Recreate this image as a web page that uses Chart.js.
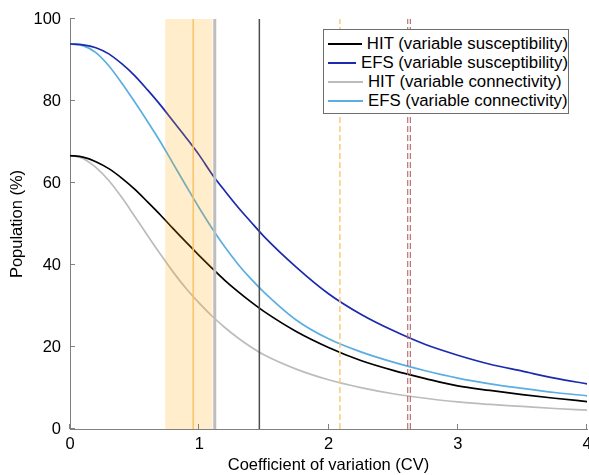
<!DOCTYPE html>
<html>
<head>
<meta charset="utf-8">
<script src="https://cdn.jsdelivr.net/npm/chart.js@4.4.1/dist/chart.umd.min.js"></script>
<style>
  html, body { margin: 0; padding: 0; background: #fff; }
  #wrap { position: relative; width: 589px; height: 475px; }
  #legend {
    position: absolute; left: 323px; top: 29px; width: 246px; height: 85px;
    box-sizing: border-box; border: 1px solid #6e6e6e; background: #fff;
    padding-top: 4px; font: 16.8px "Liberation Sans", Arial, Helvetica, sans-serif; color: #000;
  }
  .row { height: 19px; display: flex; align-items: center; white-space: nowrap; }
  .swatch { width: 35px; height: 0; border-top: 2px solid; margin: 0 5px 0 4px; }
</style>
</head>
<body>
<div id="wrap">
  <canvas id="chart" width="589" height="475"></canvas>
  <div id="legend"></div>
</div>
<script>
"use strict";

// Coefficient of variation sample points (x) and the four curves (% of population).
const CV = [0, 0.1, 0.2, 0.3, 0.4, 0.5, 0.6, 0.7, 0.8, 0.9, 1.0, 1.1, 1.2, 1.3, 1.4, 1.5,
            1.75, 2.0, 2.25, 2.5, 2.75, 3.0, 3.25, 3.5, 3.75, 4.0];
const HIT_SUS = [66.7, 66.3, 65.2, 63.5, 61.2, 58.5, 55.4, 52.2, 48.8, 45.5, 42.3, 39.2, 36.2, 33.5, 31.0, 28.7,
                 23.8, 19.9, 16.7, 14.3, 12.3, 10.5, 9.4, 8.4, 7.5, 6.7];
const EFS_SUS = [93.9, 93.7, 93.0, 91.5, 89.1, 86.2, 82.7, 79.0, 75.0, 71.0, 66.8, 62.1, 58.0, 54.1, 50.5, 47.0,
                 39.5, 33.0, 28.0, 24.0, 20.6, 18.0, 15.8, 14.1, 12.4, 11.0];
const HIT_CON = [66.7, 66.0, 63.8, 60.6, 56.5, 51.9, 47.2, 42.6, 38.2, 34.2, 30.7, 27.5, 24.7, 22.2, 20.0, 18.1,
                 14.6, 12.0, 10.1, 8.6, 7.5, 6.6, 6.0, 5.5, 5.0, 4.6];
const EFS_CON = [93.9, 93.5, 91.8, 88.6, 84.4, 79.8, 75.0, 70.0, 64.6, 59.2, 53.9, 48.9, 44.3, 40.2, 36.6, 33.4,
                 26.6, 22.0, 18.8, 16.3, 14.2, 12.4, 11.0, 9.9, 8.9, 8.1];

// Reference CV markers.
const BAND_CV = [0.736, 1.104];
const ORANGE_CV = 0.953;
const GRAY_CV = 1.12;
const BLACK_CV = 1.465;
const ORANGE_DASH_CV = 2.088;
const RED_DASH_CV = [2.613, 2.633];

const X_TICKS = [0, 1, 2, 3, 4];
const Y_TICKS = [0, 20, 40, 60, 80, 100];

const SERIES = [
  { label: "HIT (variable susceptibility)", data: HIT_SUS, color: "#000000" },
  { label: "EFS (variable susceptibility)", data: EFS_SUS, color: "#1b2aae" },
  { label: "HIT (variable connectivity)", data: HIT_CON, color: "#bcbcbc" },
  { label: "EFS (variable connectivity)", data: EFS_CON, color: "#5aaee2" },
];

const FONT = "'Liberation Sans', Arial, Helvetica, sans-serif";
const AXIS = "#808080";

const curve = (s) => ({
  label: s.label,
  data: CV.map((x, i) => ({ x, y: s.data[i] })),
  borderColor: s.color,
  borderWidth: 1.7,
  pointRadius: 0,
  cubicInterpolationMode: "monotone",
  order: 3,
});

const vline = (x, color, width, dash) => ({
  label: "",
  data: [{ x, y: 0 }, { x, y: 100 }],
  borderColor: color,
  borderWidth: width,
  borderDash: dash || [],
  pointRadius: 0,
  order: 1,
});

// translucent band on top of the curves, filled down to y = 0
const band = {
  label: "",
  data: BAND_CV.map((x) => ({ x, y: 100 })),
  borderWidth: 0,
  borderColor: "rgba(0,0,0,0)",
  backgroundColor: "rgba(255,165,0,0.2)",
  fill: "origin",
  pointRadius: 0,
  order: 2,
};

const datasets = [
  ...SERIES.map(curve),
  band,
  vline(ORANGE_CV, "#f8c46c", 1.5),
  vline(GRAY_CV, "#bdbdbd", 3),
  vline(BLACK_CV, "#4d4d4d", 1.5),
  vline(ORANGE_DASH_CV, "#fbcb7c", 1.5, [6, 3]),
  ...RED_DASH_CV.map((x) => vline(x, "#b46464", 1.1, [6, 3])),
];

// MATLAB-style inward tick marks
const inwardTicks = {
  id: "inwardTicks",
  afterDatasetsDraw(chart) {
    const { ctx, chartArea: a, scales: { x, y } } = chart;
    ctx.save();
    ctx.strokeStyle = AXIS;
    ctx.lineWidth = 1;
    ctx.beginPath();
    X_TICKS.forEach((v) => {
      const px = Math.round(x.getPixelForValue(v)) - 0.5;
      ctx.moveTo(px, a.bottom); ctx.lineTo(px, a.bottom - 5);
    });
    Y_TICKS.forEach((v) => {
      const py = Math.round(y.getPixelForValue(v)) - 0.5;
      ctx.moveTo(a.left, py); ctx.lineTo(a.left + 5, py);
    });
    ctx.stroke();
    ctx.restore();
  },
};

new Chart(document.getElementById("chart"), {
  type: "line",
  data: { datasets },
  plugins: [inwardTicks],
  options: {
    responsive: false,
    animation: false,
    layout: { padding: { top: 19, right: 2, left: 0, bottom: 0 } },
    plugins: { legend: { display: false }, tooltip: { enabled: false } },
    scales: {
      x: {
        type: "linear", min: 0, max: 4,
        afterBuildTicks: (s) => { s.ticks = X_TICKS.map((value) => ({ value })); },
        afterFit: (s) => { s.height = 46; s.paddingLeft = 0; s.paddingRight = 0; },
        grid: { display: false, drawTicks: false },
        border: { display: true, color: AXIS, width: 1 },
        ticks: { color: "#000", padding: 6, font: { family: FONT, size: 16.5 }, maxRotation: 0 },
        title: { display: true, text: "Coefficient of variation (CV)", color: "#000",
                 font: { family: FONT, size: 16.5 }, padding: { top: 0, bottom: 0 } },
      },
      y: {
        min: 0, max: 100,
        afterBuildTicks: (s) => { s.ticks = Y_TICKS.map((value) => ({ value })); },
        afterFit: (s) => { s.width = 70; s.paddingTop = 0; s.paddingBottom = 0; },
        grid: { display: false, drawTicks: false },
        border: { display: true, color: AXIS, width: 1 },
        ticks: { color: "#000", padding: 9, font: { family: FONT, size: 16.5 } },
        title: { display: true, text: "Population (%)", color: "#000",
                 font: { family: FONT, size: 16.5 }, padding: { top: 8, bottom: 0 } },
      },
    },
  },
});

document.getElementById("legend").replaceChildren(...SERIES.map((s) => {
  const row = document.createElement("div");
  row.className = "row";
  const sw = document.createElement("span");
  sw.className = "swatch";
  sw.style.borderTopColor = s.color;
  row.append(sw, document.createTextNode(s.label));
  return row;
}));
</script>
</body>
</html>
